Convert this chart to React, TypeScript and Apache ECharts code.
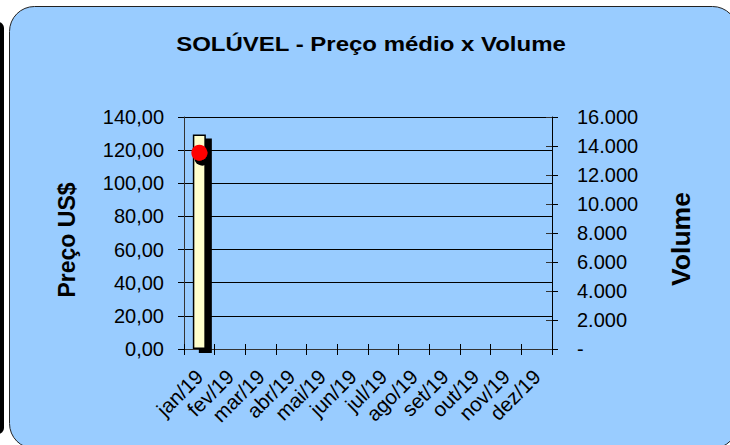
import React, { useEffect, useRef } from "react";
import * as echarts from "echarts";

const months = ["jan/19", "fev/19", "mar/19", "abr/19", "mai/19", "jun/19", "jul/19", "ago/19", "set/19", "out/19", "nov/19", "dez/19"];
const volume: (number | null)[] = [14800, null, null, null, null, null, null, null, null, null, null, null];
const price: (number | null)[] = [118.5, null, null, null, null, null, null, null, null, null, null, null];
const priceTicks = { min: 0, max: 140, interval: 20 };
const volumeTicks = { min: 0, max: 16000, interval: 2000 };

const FONT = "'Liberation Sans', Arial, sans-serif";

export default function App() {
  const ref = useRef<HTMLDivElement>(null);
  useEffect(() => {
    if (!ref.current) return;
    const chart = echarts.init(ref.current, null, { renderer: "svg" });
    const fmtPrice = (v: number) => v.toFixed(2).replace(".", ",");
    const fmtVol = (v: number) => (v === 0 ? "-" : v.toLocaleString("de-DE"));
    chart.setOption({
      animation: false,
      backgroundColor: "#ffffff",
      textStyle: { fontFamily: FONT },
      graphic: [
        { type: "rect", z: -10, shape: { x: -30, y: 22, width: 34, height: 412, r: 6 }, style: { fill: "#000" } },
        { type: "rect", z: -10, shape: { x: 9.5, y: 6.5, width: 728, height: 442, r: 25 }, style: { fill: "#99CCFF", stroke: "#222", lineWidth: 1 } },
        { type: "text", z: 10, x: 371, y: 44, scaleX: 1.2, style: { text: "SOLÚVEL - Preço médio x Volume", font: `bold 20px ${FONT}`, fill: "#000", align: "center", verticalAlign: "middle" } },
        { type: "text", z: 10, x: 67, y: 240, rotation: Math.PI / 2, style: { text: "Preço US$", font: `bold 23px ${FONT}`, fill: "#000", align: "center", verticalAlign: "middle" } },
        { type: "text", z: 10, x: 681, y: 239, rotation: Math.PI / 2, style: { text: "Volume", font: `bold 26.5px ${FONT}`, fill: "#000", align: "center", verticalAlign: "middle" } },
      ],
      grid: { left: 184, right: 178, top: 117, bottom: 96, containLabel: false },
      xAxis: [
        {
          type: "category",
          data: months,
          position: "bottom",
          boundaryGap: true,
          axisLine: { show: true, lineStyle: { color: "#333", width: 1 } },
          axisTick: { show: true, inside: false, length: 6, interval: 0, lineStyle: { color: "#000" } },
          axisLabel: { interval: 0, rotate: 45, fontSize: 20.5, color: "#000", fontFamily: FONT, margin: 24 },
          splitLine: { show: false },
        },
        {
          type: "category",
          data: months,
          position: "bottom",
          offset: 0,
          boundaryGap: true,
          axisLine: { show: false },
          axisTick: { show: true, inside: true, length: 5, interval: 0, lineStyle: { color: "#000" } },
          axisLabel: { show: false },
          splitLine: { show: false },
        },
      ],
      yAxis: [
        {
          type: "value",
          position: "left",
          ...priceTicks,
          axisLine: { show: true, lineStyle: { color: "#333" } },
          axisTick: { show: true, length: 6, lineStyle: { color: "#000" } },
          axisLabel: { formatter: fmtPrice, fontSize: 20, color: "#000", fontFamily: FONT, margin: 20 },
          splitLine: { show: true, lineStyle: { color: "#000", width: 1 } },
        },
        {
          type: "value",
          position: "right",
          ...volumeTicks,
          axisLine: { show: true, lineStyle: { color: "#000" } },
          axisTick: { show: true, length: 6, lineStyle: { color: "#000" } },
          axisLabel: { formatter: fmtVol, fontSize: 20, color: "#000", fontFamily: FONT, margin: 25 },
          splitLine: { show: false },
        },
        {
          type: "value",
          position: "right",
          offset: 0,
          ...volumeTicks,
          axisLine: { show: false },
          axisTick: { show: true, inside: true, length: 6, lineStyle: { color: "#333" } },
          axisLabel: { show: false },
          splitLine: { show: false },
        },
      ],
      series: [
        {
          type: "bar",
          xAxisIndex: 0,
          yAxisIndex: 1,
          data: volume,
          barWidth: 13,
          itemStyle: {
            color: "#FFFFCC",
            borderColor: "#000",
            borderWidth: 1.5,
            shadowColor: "#000",
            shadowBlur: 0,
            shadowOffsetX: 6,
            shadowOffsetY: 4,
          },
          z: 3,
        },
        {
          type: "line",
          xAxisIndex: 0,
          yAxisIndex: 0,
          data: price,
          symbol: "circle",
          symbolSize: 16,
          lineStyle: { color: "#FF0000" },
          itemStyle: {
            color: "#FF0000",
            shadowColor: "#000",
            shadowBlur: 0,
            shadowOffsetX: 3,
            shadowOffsetY: 5,
          },
          z: 5,
        },
      ],
    });
    return () => chart.dispose();
  }, []);
  return <div ref={ref} style={{ position: "absolute", left: 0, top: 0, width: 730, height: 445 }} />;
}
